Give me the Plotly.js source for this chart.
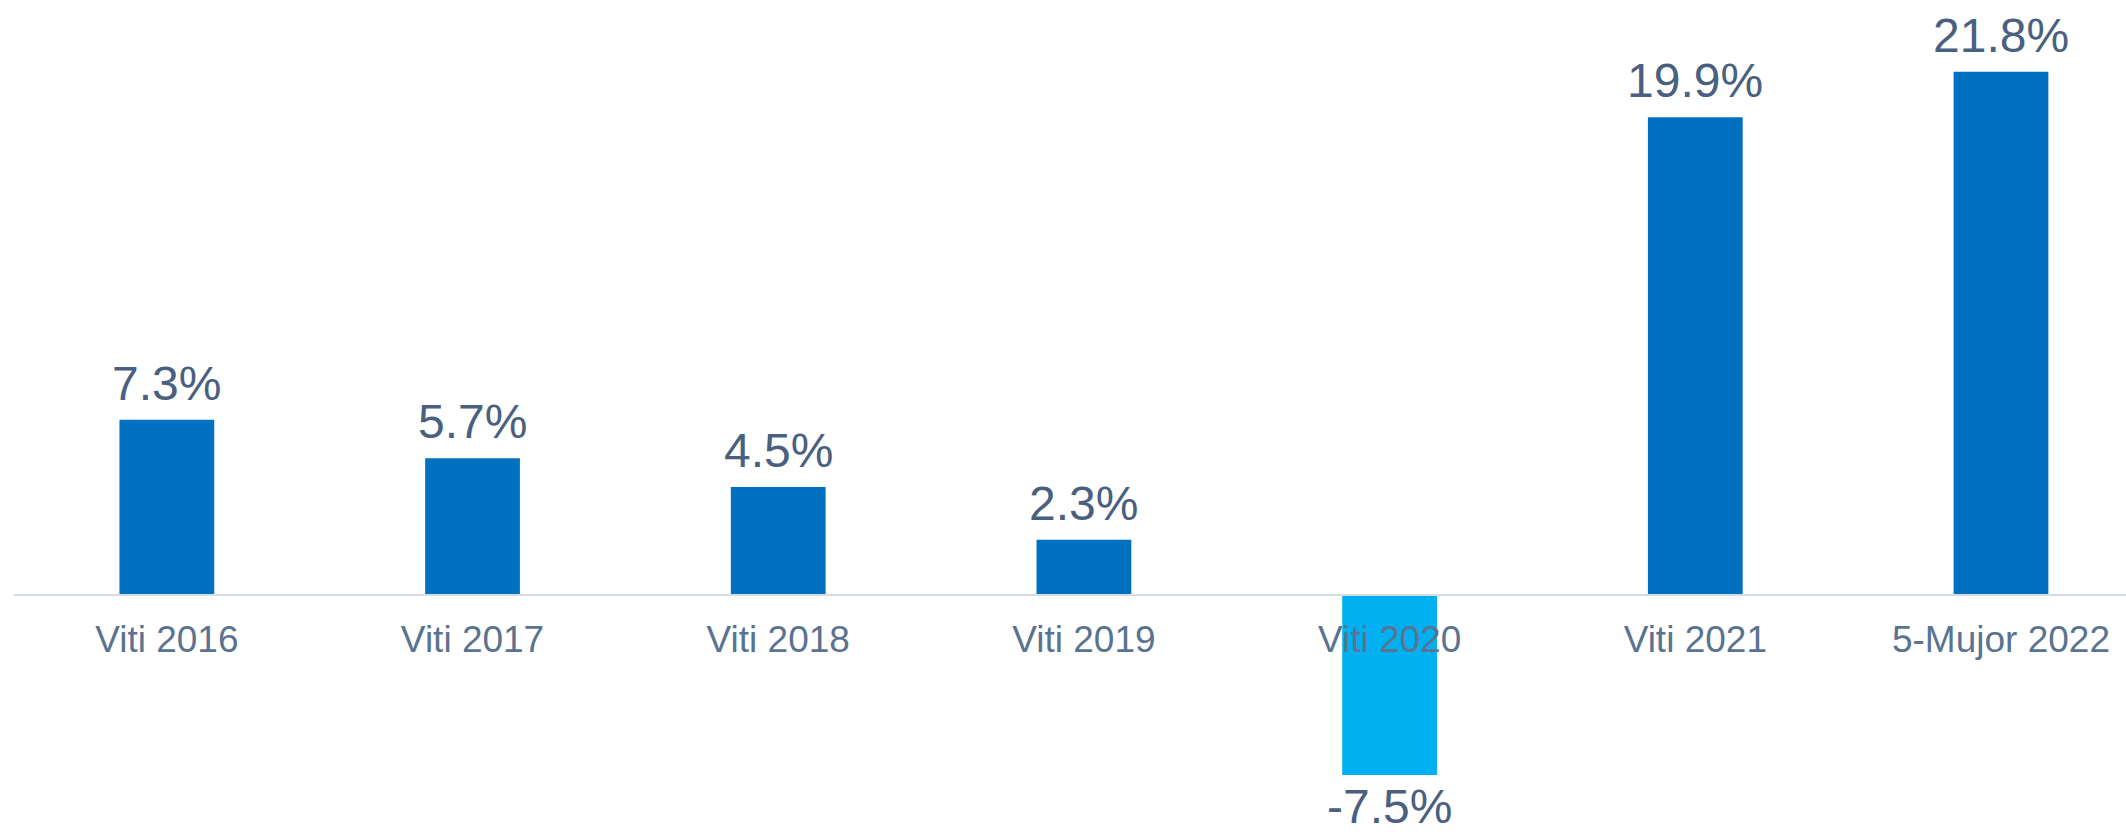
<!DOCTYPE html>
<html>
<head>
<meta charset="utf-8">
<script src="https://cdn.plot.ly/plotly-3.0.1.min.js"></script>
<style>
html,body{margin:0;padding:0;background:#fff;}
#chart{width:2126px;height:836px;}
</style>
</head>
<body>
<div id="chart"></div>
<script>
var categories = ["Viti 2016", "Viti 2017", "Viti 2018", "Viti 2019", "Viti 2020", "Viti 2021", "5-Mujor 2022"];
var values = [7.3, 5.7, 4.5, 2.3, -7.5, 19.9, 21.8];
var valueLabels = ["7.3%", "5.7%", "4.5%", "2.3%", "-7.5%", "19.9%", "21.8%"];

var colors = values.map(function(v){ return v < 0 ? "#00B0F0" : "#0070C0"; });

var trace = {
  type: "bar",
  x: categories,
  y: values,
  width: 0.31,
  marker: {color: colors, line: {width: 0}},
  hoverinfo: "skip"
};

var annotations = categories.map(function(c, i){
  var v = values[i];
  return {
    x: c, y: v, xref: "x", yref: "y",
    text: valueLabels[i],
    showarrow: false,
    yanchor: v < 0 ? "top" : "bottom",
    yshift: v < 0 ? -3 : 8,
    font: {family: "Liberation Sans, Arial, sans-serif", size: 48, color: "#4A6080"}
  };
});

var yBottom = -10.04, yTop = 24.79;
var layout = {
  width: 2126, height: 836,
  margin: {l: 14, r: 0, t: 0, b: 0},
  paper_bgcolor: "#fff", plot_bgcolor: "#fff",
  showlegend: false,
  xaxis: {
    type: "category",
    range: [-0.5, 6.409],
    anchor: "free",
    position: (0 - yBottom) / (yTop - yBottom),
    showline: true, linecolor: "#D5DCE4", linewidth: 2,
    showgrid: false, zeroline: false,
    ticks: "", ticklabelstandoff: 12,
    tickfont: {family: "Liberation Sans, Arial, sans-serif", size: 37, color: "#5A7390"},
    fixedrange: true
  },
  yaxis: {
    range: [yBottom, yTop],
    visible: false, showgrid: false, zeroline: false,
    fixedrange: true
  },
  annotations: annotations
};

Plotly.newPlot("chart", [trace], layout, {displayModeBar: false, staticPlot: true});
</script>
</body>
</html>
